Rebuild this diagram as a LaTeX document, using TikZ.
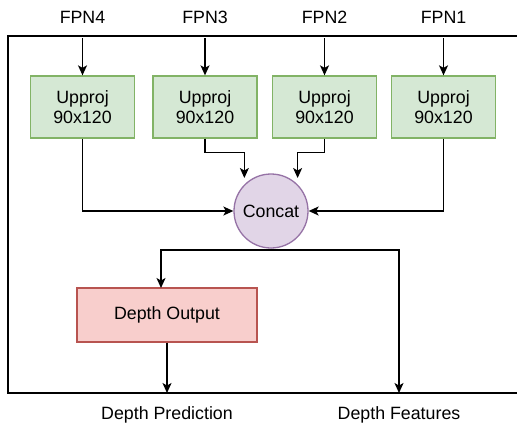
\documentclass[tikz,border=0pt]{standalone}
\usepackage{fontspec}
\setmainfont{Liberation Sans}
\usetikzlibrary{arrows.meta}
\definecolor{upfill}{HTML}{D5E8D4}
\definecolor{updraw}{HTML}{82B366}
\definecolor{outfill}{HTML}{F8CECC}
\definecolor{outdraw}{HTML}{B85450}
\definecolor{catfill}{HTML}{E1D5E7}
\definecolor{catdraw}{HTML}{9673A6}
\begin{document}
\begin{tikzpicture}[x=1pt,y=-1pt,line width=1.3pt,
    every node/.style={font=\fontsize{17.8}{20.5}\selectfont},
    upproj/.style={draw=updraw,fill=upfill,minimum width=104pt,
                   minimum height=62pt,align=center,inner sep=0pt},
    outbox/.style={draw=outdraw,fill=outfill,minimum width=180pt,
                   minimum height=54pt,inner sep=0pt},
    concat/.style={draw=catdraw,fill=catfill,circle,minimum size=74pt,
                   inner sep=0pt},
    arr/.style={-{Stealth[length=10pt,width=9pt,inset=2.5pt]}}]
    \useasboundingbox (0,0) rectangle (517,426);

    % frame, open on the right
    \draw (517,36) -- (8,36) -- (8,393) -- (517,393);

    % inputs and upprojection blocks
    \foreach \i/\x in {4/82.5,3/205,2/324.5,1/443.5} {
      \node (fpn\i) at (\x,17) {FPN\i};
      \coordinate (in\i) at (\x,38);
      \node[upproj] (up\i) at (\x,107) {Upproj\\90x120};
      \draw[arr] (in\i) -- (up\i.north);
    }

    \node[concat] (cat) at (271,211) {Concat};
    \node[outbox] (out) at (167,315) {Depth Output};

    \coordinate (split) at (271,250);
    \coordinate (predend) at (167,393);
    \coordinate (featend) at (399,393);
    \node (pred) at (167,415) {Depth Prediction};
    \node (feat) at (399,415) {Depth Features};

    % into concat
    \draw[arr] (up4.south) |- (cat.west);
    \draw[arr] (up1.south) |- (cat.east);
    \draw[arr] (up3.south) -- ++(0,14) -| (cat.north west |- 0,178);
    \draw[arr] (up2.south) -- ++(0,14) -| (cat.north east |- 0,178);

    % out of concat
    \draw (cat.south) -- (split);
    \draw[arr] (split) -| (161,288);
    \draw[arr] (split) -| (featend);
    \draw[arr] (out.south) -- (predend);
\end{tikzpicture}
\end{document}
